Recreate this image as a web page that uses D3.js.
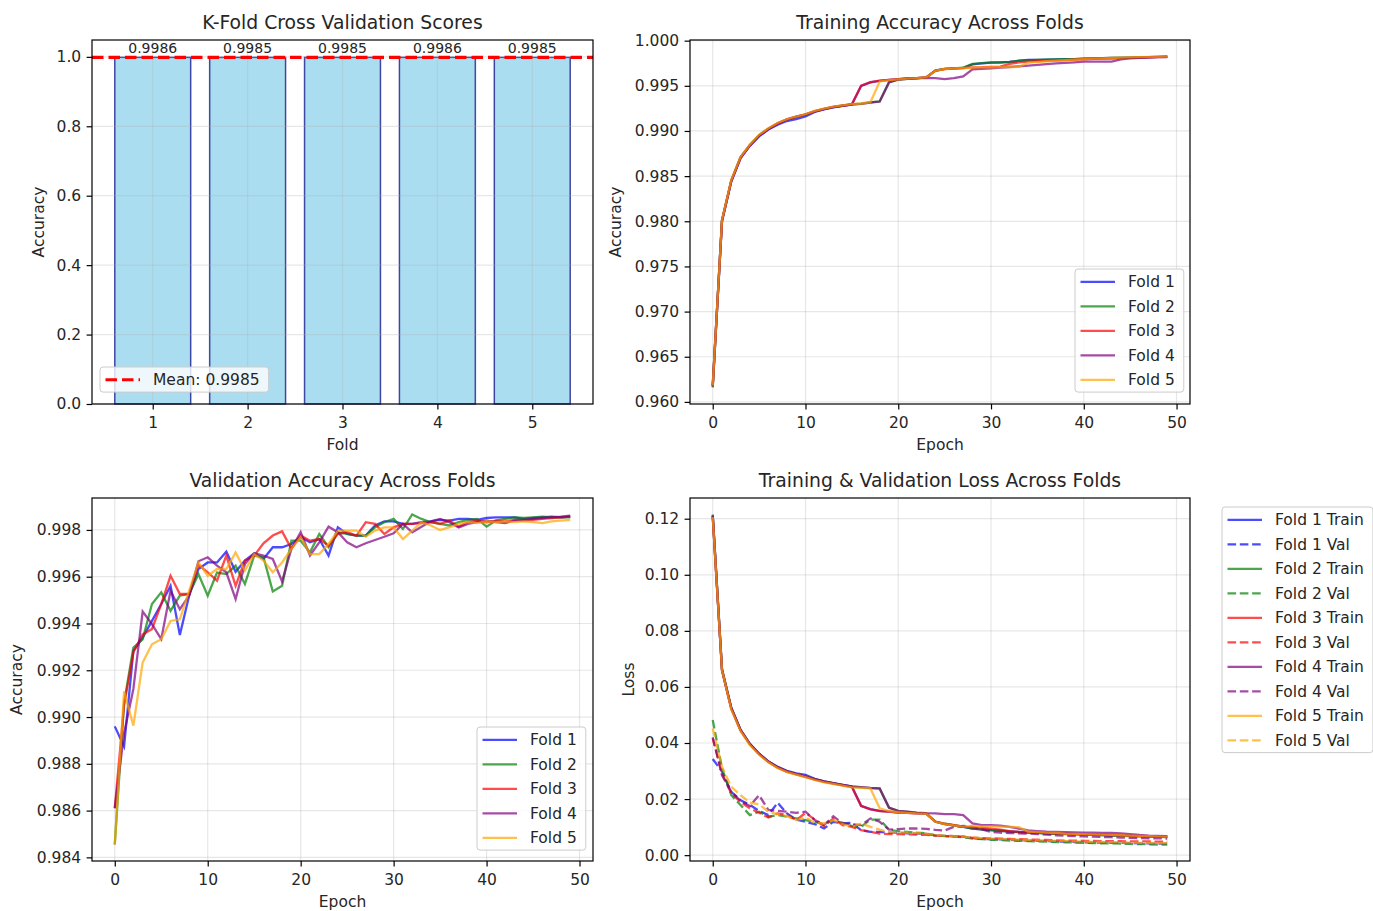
<!DOCTYPE html>
<html>
<head>
<meta charset="utf-8">
<script src="https://cdn.jsdelivr.net/npm/d3@7"></script>
<style>
body { margin: 0; background: #fff; }
svg text { font-family: "DejaVu Sans", sans-serif; fill: #262626; }
</style>
</head>
<body>
<svg id="fig" width="1373" height="911"></svg>
<script>
/* global d3 */

var foldNames = ["Fold 1", "Fold 2", "Fold 3", "Fold 4", "Fold 5"];
var foldColors = ["blue", "green", "red", "purple", "orange"];
var cvScores = [0.9986, 0.9985, 0.9985, 0.9986, 0.9985];

var epochTicks = [0, 10, 20, 30, 40, 50];
var foldTicks = [1, 2, 3, 4, 5];
var scoreTicks = [0.0, 0.2, 0.4, 0.6, 0.8, 1.0];
var trainAccTicks = [0.960, 0.965, 0.970, 0.975, 0.980, 0.985, 0.990, 0.995, 1.000];
var valAccTicks = [0.984, 0.986, 0.988, 0.990, 0.992, 0.994, 0.996, 0.998];
var lossTicks = [0.00, 0.02, 0.04, 0.06, 0.08, 0.10, 0.12];

var trainAcc = [
  [0.96185, 0.98005, 0.98440, 0.98700, 0.98835, 0.98940, 0.99015, 0.99070, 0.99110, 0.99130,
   0.99160, 0.99210, 0.99240, 0.99262, 0.99278, 0.99293, 0.99500, 0.99537, 0.99555, 0.99566,
   0.99573, 0.99581, 0.99584, 0.99592, 0.99668, 0.99687, 0.99694, 0.99698, 0.99738, 0.99749,
   0.99756, 0.99760, 0.99764, 0.99778, 0.99786, 0.99786, 0.99789, 0.99793, 0.99796, 0.99796,
   0.99800, 0.99803, 0.99806, 0.99808, 0.99810, 0.99812, 0.99815, 0.99818, 0.99820, 0.99822],
  [0.96160, 0.98010, 0.98450, 0.98710, 0.98845, 0.98955, 0.99025, 0.99085, 0.99128, 0.99158,
   0.99182, 0.99218, 0.99244, 0.99266, 0.99280, 0.99295, 0.99302, 0.99317, 0.99328, 0.99540,
   0.99570, 0.99578, 0.99584, 0.99590, 0.99668, 0.99687, 0.99694, 0.99700, 0.99742, 0.99752,
   0.99758, 0.99758, 0.99764, 0.99776, 0.99784, 0.99786, 0.99790, 0.99793, 0.99796, 0.99796,
   0.99800, 0.99803, 0.99806, 0.99808, 0.99811, 0.99813, 0.99816, 0.99818, 0.99820, 0.99822],
  [0.96175, 0.98012, 0.98452, 0.98708, 0.98842, 0.98952, 0.99026, 0.99084, 0.99128, 0.99158,
   0.99183, 0.99220, 0.99246, 0.99268, 0.99282, 0.99297, 0.99502, 0.99540, 0.99557, 0.99566,
   0.99574, 0.99581, 0.99586, 0.99593, 0.99666, 0.99685, 0.99692, 0.99696, 0.99705, 0.99706,
   0.99710, 0.99712, 0.99742, 0.99760, 0.99768, 0.99772, 0.99776, 0.99780, 0.99785, 0.99790,
   0.99794, 0.99798, 0.99800, 0.99803, 0.99806, 0.99810, 0.99813, 0.99816, 0.99818, 0.99820],
  [0.96170, 0.98000, 0.98445, 0.98700, 0.98838, 0.98948, 0.99022, 0.99080, 0.99124, 0.99154,
   0.99180, 0.99216, 0.99242, 0.99264, 0.99278, 0.99293, 0.99300, 0.99315, 0.99326, 0.99538,
   0.99568, 0.99576, 0.99582, 0.99588, 0.99584, 0.99573, 0.99584, 0.99603, 0.99683, 0.99687,
   0.99694, 0.99701, 0.99708, 0.99716, 0.99724, 0.99731, 0.99740, 0.99748, 0.99755, 0.99760,
   0.99767, 0.99768, 0.99768, 0.99768, 0.99793, 0.99804, 0.99810, 0.99815, 0.99817, 0.99819],
  [0.96180, 0.98015, 0.98455, 0.98712, 0.98848, 0.98958, 0.99030, 0.99088, 0.99130, 0.99160,
   0.99185, 0.99222, 0.99248, 0.99270, 0.99284, 0.99298, 0.99304, 0.99318, 0.99548, 0.99562,
   0.99572, 0.99580, 0.99585, 0.99592, 0.99667, 0.99686, 0.99693, 0.99697, 0.99701, 0.99703,
   0.99705, 0.99706, 0.99708, 0.99710, 0.99756, 0.99765, 0.99772, 0.99778, 0.99785, 0.99790,
   0.99796, 0.99800, 0.99804, 0.99808, 0.99812, 0.99815, 0.99818, 0.99820, 0.99822, 0.99824]
];

var valAcc = [
  [0.98960, 0.98874, 0.99283, 0.99340, 0.99411, 0.99483, 0.99561, 0.99351, 0.99519, 0.99633,
   0.99661, 0.99661, 0.99707, 0.99621, 0.99669, 0.99700, 0.99676, 0.99726, 0.99726, 0.99740,
   0.99769, 0.99747, 0.99761, 0.99690, 0.99811, 0.99783, 0.99776, 0.99776, 0.99819, 0.99837,
   0.99837, 0.99826, 0.99826, 0.99833, 0.99837, 0.99843, 0.99840, 0.99847, 0.99847, 0.99843,
   0.99851, 0.99854, 0.99854, 0.99854, 0.99847, 0.99851, 0.99854, 0.99857, 0.99854, 0.99857],
  [0.98455, 0.99060, 0.99297, 0.99332, 0.99483, 0.99533, 0.99454, 0.99519, 0.99526, 0.99611,
   0.99519, 0.99618, 0.99611, 0.99647, 0.99569, 0.99690, 0.99683, 0.99537, 0.99561, 0.99754,
   0.99754, 0.99704, 0.99783, 0.99726, 0.99790, 0.99783, 0.99776, 0.99776, 0.99811, 0.99833,
   0.99847, 0.99804, 0.99866, 0.99847, 0.99833, 0.99826, 0.99819, 0.99833, 0.99843, 0.99847,
   0.99814, 0.99840, 0.99847, 0.99854, 0.99851, 0.99854, 0.99857, 0.99854, 0.99854, 0.99854],
  [0.98610, 0.99050, 0.99276, 0.99354, 0.99376, 0.99483, 0.99604, 0.99526, 0.99526, 0.99651,
   0.99619, 0.99583, 0.99690, 0.99561, 0.99669, 0.99690, 0.99743, 0.99776, 0.99794, 0.99719,
   0.99776, 0.99754, 0.99761, 0.99733, 0.99783, 0.99790, 0.99776, 0.99833, 0.99826, 0.99783,
   0.99811, 0.99826, 0.99826, 0.99829, 0.99833, 0.99826, 0.99840, 0.99814, 0.99833, 0.99840,
   0.99833, 0.99840, 0.99837, 0.99843, 0.99840, 0.99843, 0.99847, 0.99851, 0.99854, 0.99857],
  [0.98610, 0.98930, 0.99120, 0.99451, 0.99397, 0.99333, 0.99540, 0.99461, 0.99519, 0.99666,
   0.99683, 0.99647, 0.99619, 0.99504, 0.99654, 0.99700, 0.99690, 0.99676, 0.99580, 0.99719,
   0.99790, 0.99690, 0.99747, 0.99814, 0.99790, 0.99747, 0.99726, 0.99743, 0.99757, 0.99771,
   0.99786, 0.99826, 0.99790, 0.99814, 0.99837, 0.99847, 0.99833, 0.99811, 0.99826, 0.99833,
   0.99840, 0.99833, 0.99829, 0.99840, 0.99843, 0.99847, 0.99851, 0.99854, 0.99857, 0.99861],
  [0.98455, 0.99110, 0.98963, 0.99233, 0.99311, 0.99333, 0.99411, 0.99418, 0.99540, 0.99661,
   0.99604, 0.99633, 0.99633, 0.99704, 0.99626, 0.99697, 0.99669, 0.99619, 0.99661, 0.99719,
   0.99769, 0.99697, 0.99697, 0.99740, 0.99797, 0.99797, 0.99797, 0.99771, 0.99797, 0.99811,
   0.99811, 0.99761, 0.99797, 0.99833, 0.99819, 0.99800, 0.99811, 0.99826, 0.99833, 0.99829,
   0.99837, 0.99833, 0.99837, 0.99833, 0.99837, 0.99833, 0.99829, 0.99837, 0.99840, 0.99843]
];

var trainLoss = [
  [0.1210, 0.0660, 0.0524, 0.0446, 0.0396, 0.0361, 0.0334, 0.0315, 0.0301, 0.0292,
   0.0286, 0.0272, 0.0263, 0.0257, 0.0251, 0.0245, 0.0176, 0.0164, 0.0158, 0.0155,
   0.0152, 0.0151, 0.0149, 0.0148, 0.0119, 0.0111, 0.0106, 0.0101, 0.0095, 0.0092,
   0.0089, 0.0087, 0.0085, 0.0083, 0.0081, 0.0080, 0.0078, 0.0077, 0.0076, 0.0075,
   0.0074, 0.0073, 0.0072, 0.0071, 0.0070, 0.0069, 0.0068, 0.0067, 0.0066, 0.0065],
  [0.1215, 0.0664, 0.0526, 0.0447, 0.0397, 0.0361, 0.0333, 0.0313, 0.0298, 0.0289,
   0.0280, 0.0270, 0.0262, 0.0256, 0.0250, 0.0244, 0.0242, 0.0239, 0.0237, 0.0169,
   0.0157, 0.0154, 0.0151, 0.0149, 0.0120, 0.0112, 0.0107, 0.0102, 0.0095, 0.0092,
   0.0089, 0.0087, 0.0084, 0.0082, 0.0080, 0.0079, 0.0077, 0.0076, 0.0075, 0.0074,
   0.0073, 0.0072, 0.0071, 0.0070, 0.0069, 0.0068, 0.0067, 0.0066, 0.0065, 0.0064],
  [0.1208, 0.0658, 0.0522, 0.0445, 0.0395, 0.0360, 0.0333, 0.0312, 0.0298, 0.0288,
   0.0279, 0.0269, 0.0261, 0.0255, 0.0249, 0.0243, 0.0175, 0.0163, 0.0157, 0.0155,
   0.0152, 0.0151, 0.0149, 0.0149, 0.0120, 0.0112, 0.0107, 0.0102, 0.0099, 0.0098,
   0.0095, 0.0091, 0.0086, 0.0083, 0.0081, 0.0080, 0.0079, 0.0078, 0.0077, 0.0076,
   0.0075, 0.0074, 0.0073, 0.0072, 0.0071, 0.0070, 0.0069, 0.0068, 0.0067, 0.0067],
  [0.1212, 0.0662, 0.0525, 0.0447, 0.0397, 0.0362, 0.0334, 0.0314, 0.0299, 0.0290,
   0.0281, 0.0271, 0.0263, 0.0257, 0.0251, 0.0245, 0.0243, 0.0240, 0.0238, 0.0170,
   0.0158, 0.0155, 0.0152, 0.0150, 0.0149, 0.0146, 0.0146, 0.0143, 0.0113, 0.0107,
   0.0107, 0.0105, 0.0101, 0.0095, 0.0088, 0.0086, 0.0084, 0.0083, 0.0082, 0.0081,
   0.0080, 0.0080, 0.0079, 0.0079, 0.0078, 0.0075, 0.0072, 0.0070, 0.0069, 0.0068],
  [0.1206, 0.0660, 0.0520, 0.0443, 0.0393, 0.0358, 0.0331, 0.0311, 0.0296, 0.0287,
   0.0278, 0.0268, 0.0260, 0.0254, 0.0248, 0.0242, 0.0240, 0.0238, 0.0167, 0.0157,
   0.0153, 0.0151, 0.0149, 0.0148, 0.0119, 0.0111, 0.0106, 0.0102, 0.0104, 0.0103,
   0.0103, 0.0102, 0.0101, 0.0100, 0.0084, 0.0082, 0.0080, 0.0079, 0.0077, 0.0076,
   0.0075, 0.0074, 0.0073, 0.0072, 0.0071, 0.0070, 0.0069, 0.0068, 0.0067, 0.0066]
];

var valLoss = [
  [0.0343, 0.0298, 0.0226, 0.0196, 0.0179, 0.0158, 0.0143, 0.0187, 0.0149, 0.0127,
   0.0119, 0.0111, 0.0095, 0.0119, 0.0113, 0.0115, 0.0089, 0.0083, 0.0083, 0.0080,
   0.0080, 0.0078, 0.0077, 0.0076, 0.0071, 0.0069, 0.0068, 0.0066, 0.0060, 0.0058,
   0.0057, 0.0056, 0.0055, 0.0053, 0.0052, 0.0051, 0.0050, 0.0049, 0.0048, 0.0047,
   0.0046, 0.0045, 0.0045, 0.0044, 0.0044, 0.0043, 0.0042, 0.0042, 0.0041, 0.0041],
  [0.0482, 0.0310, 0.0214, 0.0179, 0.0143, 0.0155, 0.0137, 0.0143, 0.0137, 0.0131,
   0.0125, 0.0119, 0.0111, 0.0125, 0.0115, 0.0104, 0.0101, 0.0127, 0.0127, 0.0091,
   0.0085, 0.0083, 0.0080, 0.0078, 0.0070, 0.0068, 0.0066, 0.0064, 0.0059, 0.0057,
   0.0055, 0.0054, 0.0052, 0.0051, 0.0050, 0.0049, 0.0048, 0.0047, 0.0046, 0.0045,
   0.0044, 0.0043, 0.0042, 0.0042, 0.0041, 0.0040, 0.0039, 0.0039, 0.0038, 0.0038],
  [0.0417, 0.0292, 0.0220, 0.0190, 0.0167, 0.0151, 0.0134, 0.0149, 0.0143, 0.0125,
   0.0151, 0.0127, 0.0104, 0.0131, 0.0107, 0.0101, 0.0089, 0.0083, 0.0077, 0.0075,
   0.0075, 0.0074, 0.0073, 0.0072, 0.0070, 0.0068, 0.0067, 0.0066, 0.0062, 0.0061,
   0.0060, 0.0059, 0.0058, 0.0057, 0.0056, 0.0055, 0.0054, 0.0053, 0.0052, 0.0052,
   0.0051, 0.0051, 0.0050, 0.0050, 0.0050, 0.0049, 0.0049, 0.0049, 0.0048, 0.0048],
  [0.0420, 0.0285, 0.0226, 0.0194, 0.0175, 0.0214, 0.0161, 0.0158, 0.0155, 0.0151,
   0.0155, 0.0125, 0.0107, 0.0139, 0.0113, 0.0110, 0.0107, 0.0131, 0.0119, 0.0091,
   0.0093, 0.0095, 0.0095, 0.0094, 0.0090, 0.0088, 0.0101, 0.0104, 0.0101, 0.0092,
   0.0083, 0.0080, 0.0079, 0.0078, 0.0077, 0.0075, 0.0073, 0.0071, 0.0069, 0.0068,
   0.0067, 0.0066, 0.0065, 0.0064, 0.0063, 0.0062, 0.0061, 0.0060, 0.0060, 0.0059],
  [0.0452, 0.0315, 0.0244, 0.0214, 0.0187, 0.0182, 0.0155, 0.0146, 0.0139, 0.0125,
   0.0134, 0.0115, 0.0113, 0.0125, 0.0111, 0.0101, 0.0113, 0.0101, 0.0091, 0.0083,
   0.0081, 0.0080, 0.0079, 0.0077, 0.0072, 0.0070, 0.0068, 0.0066, 0.0063, 0.0061,
   0.0059, 0.0058, 0.0056, 0.0055, 0.0054, 0.0053, 0.0052, 0.0051, 0.0050, 0.0049,
   0.0048, 0.0047, 0.0047, 0.0046, 0.0045, 0.0045, 0.0044, 0.0044, 0.0043, 0.0043]
];

var svg = d3.select("#fig");
var fs = 15.5;
var lw = 2.3;
var valDash = "8.6,3.7";

// matplotlib-like 5% margins
function padded(lo, hi) {
  var r = hi - lo;
  return [lo - 0.05 * r, hi + 0.05 * r];
}

function makePanel(box, xd, yd, xt, yt, xfmt, yfmt, title, xl, yl, ylx) {
  var x = d3.scaleLinear().domain(xd).range([box.x0, box.x1]);
  var y = d3.scaleLinear().domain(yd).range([box.y1, box.y0]);
  var g = svg.append("g");
  var under = g.append("g");
  var grid = g.append("g");
  var data = g.append("g");
  var frame = g.append("g");

  grid.selectAll("line.gx").data(xt).join("line")
    .attr("x1", d => x(d)).attr("x2", d => x(d))
    .attr("y1", box.y0).attr("y2", box.y1);
  grid.selectAll("line.gy").data(yt).join("line")
    .attr("y1", d => y(d)).attr("y2", d => y(d))
    .attr("x1", box.x0).attr("x2", box.x1);
  grid.selectAll("line")
    .attr("stroke", "#b0b0b0").attr("stroke-opacity", 0.3).attr("stroke-width", 1.2);

  var ax = frame.append("g")
    .attr("transform", "translate(0," + box.y1 + ")")
    .call(d3.axisBottom(x).tickValues(xt).tickFormat(xfmt).tickSize(5.4).tickPadding(7.4));
  var ay = frame.append("g")
    .attr("transform", "translate(" + box.x0 + ",0)")
    .call(d3.axisLeft(y).tickValues(yt).tickFormat(yfmt).tickSize(5.4).tickPadding(5.4));
  [ax, ay].forEach(function(a) {
    a.attr("font-size", fs).attr("font-family", "DejaVu Sans");
    a.select(".domain").remove();
    a.selectAll(".tick line").attr("stroke", "#000").attr("stroke-width", 1.2);
  });

  frame.append("rect")
    .attr("x", box.x0).attr("y", box.y0)
    .attr("width", box.x1 - box.x0).attr("height", box.y1 - box.y0)
    .attr("fill", "none").attr("stroke", "#000").attr("stroke-width", 1.2);

  var cx = (box.x0 + box.x1) / 2;
  frame.append("text").attr("x", cx).attr("y", box.y0 - 11.5)
    .attr("text-anchor", "middle").attr("font-size", 18.8).text(title);
  frame.append("text").attr("x", cx).attr("y", box.y1 + 45.5)
    .attr("text-anchor", "middle").attr("font-size", fs).text(xl);
  frame.append("text")
    .attr("transform", "translate(" + ylx + "," + ((box.y0 + box.y1) / 2) + ") rotate(-90)")
    .attr("text-anchor", "middle").attr("font-size", fs).text(yl);

  return { x: x, y: y, under: under, data: data, frame: frame };
}

function drawLegend(p, lx, ly, items) {
  var lg = p.frame.append("g");
  var rect = lg.append("rect");
  var step = 24.5;
  var texts = [];
  items.forEach(function(it, i) {
    var cy = ly + 12.8 + i * step;
    lg.append("line")
      .attr("x1", lx + 5.5).attr("x2", lx + 40).attr("y1", cy).attr("y2", cy)
      .attr("stroke", it.color).attr("stroke-opacity", it.opacity)
      .attr("stroke-width", it.width).attr("stroke-dasharray", it.dash);
    texts.push(lg.append("text").attr("x", lx + 53).attr("y", cy).attr("dy", "0.36em")
      .attr("font-size", fs).text(it.label));
  });
  var tw = d3.max(texts, t => t.node().getComputedTextLength());
  rect.attr("x", lx).attr("y", ly).attr("rx", 3)
    .attr("width", 53 + tw + 9).attr("height", 12.8 * 2 + (items.length - 1) * step - 0.5)
    .attr("fill", "#fff").attr("fill-opacity", 0.8)
    .attr("stroke", "#cccccc").attr("stroke-width", 1);
}

var f1 = d3.format(".1f"), f2 = d3.format(".2f"), f3 = d3.format(".3f"), f4 = d3.format(".4f");
var lineGen = function(p) {
  return d3.line().x((d, i) => p.x(i)).y(d => p.y(d));
};
var epochDomain = padded(0, trainAcc[0].length - 1);

// ---- Panel 1: K-fold scores
var p1 = makePanel({ x0: 92, x1: 593, y0: 40, y1: 404 },
  padded(0.6, 5.4), [0, d3.max(cvScores) * 1.05],
  foldTicks, scoreTicks, d3.format("d"), f1,
  "K-Fold Cross Validation Scores", "Fold", "Accuracy", 44);

p1.under.selectAll("rect").data(cvScores).join("rect")
  .attr("x", (d, i) => p1.x(i + 1 - 0.4))
  .attr("width", p1.x(0.8) - p1.x(0))
  .attr("y", d => p1.y(d))
  .attr("height", d => p1.y(0) - p1.y(d))
  .attr("fill", "skyblue").attr("fill-opacity", 0.7)
  .attr("stroke", "navy").attr("stroke-opacity", 0.7).attr("stroke-width", 1.5);

var meanScore = d3.mean(cvScores);
p1.data.append("line")
  .attr("x1", 92).attr("x2", 593)
  .attr("y1", p1.y(meanScore)).attr("y2", p1.y(meanScore))
  .attr("stroke", "red").attr("stroke-width", 3.1).attr("stroke-dasharray", "11.5,5");

p1.data.selectAll("text").data(cvScores).join("text")
  .attr("x", (d, i) => p1.x(i + 1))
  .attr("y", d => p1.y(d) - 4)
  .attr("text-anchor", "middle").attr("font-size", 14)
  .text(d => f4(d));

drawLegend(p1, 100, 367, [
  { label: "Mean: " + f4(meanScore), color: "red", opacity: 1, width: 3.1, dash: "11.5,5" }
]);

// ---- Panel 2: training accuracy
var p2 = makePanel({ x0: 690, x1: 1190, y0: 40, y1: 404 },
  epochDomain, padded(d3.min(trainAcc.flat()), d3.max(trainAcc.flat())),
  epochTicks, trainAccTicks, d3.format("d"), f3,
  "Training Accuracy Across Folds", "Epoch", "Accuracy", 621);

trainAcc.forEach(function(s, k) {
  p2.data.append("path").attr("d", lineGen(p2)(s))
    .attr("fill", "none").attr("stroke", foldColors[k])
    .attr("stroke-opacity", 0.7).attr("stroke-width", lw);
});
drawLegend(p2, 1075, 269, foldNames.map((n, k) =>
  ({ label: n, color: foldColors[k], opacity: 0.7, width: lw, dash: null })));

// ---- Panel 3: validation accuracy
var p3 = makePanel({ x0: 92, x1: 593, y0: 498, y1: 861 },
  epochDomain, padded(d3.min(valAcc.flat()), d3.max(valAcc.flat())),
  epochTicks, valAccTicks, d3.format("d"), f3,
  "Validation Accuracy Across Folds", "Epoch", "Accuracy", 22);

valAcc.forEach(function(s, k) {
  p3.data.append("path").attr("d", lineGen(p3)(s))
    .attr("fill", "none").attr("stroke", foldColors[k])
    .attr("stroke-opacity", 0.7).attr("stroke-width", lw);
});
drawLegend(p3, 477, 727, foldNames.map((n, k) =>
  ({ label: n, color: foldColors[k], opacity: 0.7, width: lw, dash: null })));

// ---- Panel 4: losses
var allLoss = trainLoss.flat().concat(valLoss.flat());
var p4 = makePanel({ x0: 690, x1: 1190, y0: 498, y1: 861 },
  epochDomain, padded(d3.min(allLoss), d3.max(allLoss)),
  epochTicks, lossTicks, d3.format("d"), f2,
  "Training & Validation Loss Across Folds", "Epoch", "Loss", 634);

var lossItems = [];
foldNames.forEach(function(n, k) {
  p4.data.append("path").attr("d", lineGen(p4)(trainLoss[k]))
    .attr("fill", "none").attr("stroke", foldColors[k])
    .attr("stroke-opacity", 0.7).attr("stroke-width", lw);
  p4.data.append("path").attr("d", lineGen(p4)(valLoss[k]))
    .attr("fill", "none").attr("stroke", foldColors[k])
    .attr("stroke-opacity", 0.7).attr("stroke-width", lw)
    .attr("stroke-dasharray", valDash);
  lossItems.push({ label: n + " Train", color: foldColors[k], opacity: 0.7, width: lw, dash: null });
  lossItems.push({ label: n + " Val", color: foldColors[k], opacity: 0.7, width: lw, dash: valDash });
});
drawLegend(p4, 1222, 507, lossItems);
</script>
</body>
</html>
